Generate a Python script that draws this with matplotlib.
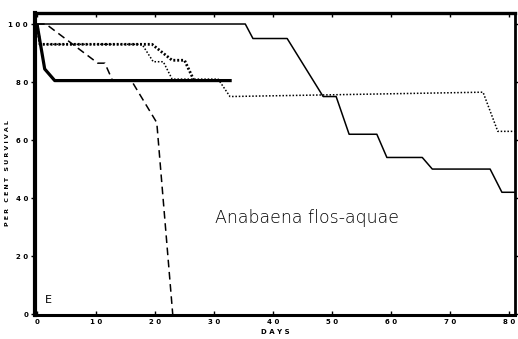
import matplotlib.pyplot as plt

# survival curves (days, per cent survival)
thin_x = [0, 35.3, 36.6, 42.4, 48.5, 50.7, 52.9, 57.6, 59.3, 65.3, 67, 76.8, 78.8, 81]
thin_y = [100, 100, 95, 95, 75, 75, 62, 62, 54, 54, 50, 50, 42, 42]

thick_x = [0, 1.3, 3.0, 33]
thick_y = [100, 84.5, 80.5, 80.5]

dash_x = [0, 1.5, 10.3, 11.5, 12.8, 16, 20.3, 23]
dash_y = [100, 100, 86.5, 86.5, 80.5, 80.5, 66, 0]

dot_thick_x = [0, 0.5, 19.5, 22.9, 25, 26.5]
dot_thick_y = [100, 93, 93, 87.5, 87.5, 81]

dot_thin_x = [0, 0.5, 17.8, 19.7, 21.4, 22.9, 30.7, 32.7, 75.6, 78.1, 81]
dot_thin_y = [100, 93, 93, 87, 87, 81, 81, 75, 76.5, 63, 63]

xticks = [0, 10, 20, 30, 40, 50, 60, 70, 80]
xlabels = ['0', '1 0', '2 0', '3 0', '4 0', '5 0', '6 0', '7 0', '8 0']
yticks = [0, 20, 40, 60, 80, 100]
ylabels = ['0', '2 0', '4 0', '6 0', '8 0', '1 0 0']

fig = plt.figure(figsize=(5.18, 3.39), dpi=100)
ax = fig.add_axes([0.0676, 0.0708, 0.9264, 0.8909])

ax.plot(thin_x, thin_y, color='black', lw=1.1)
ax.plot(thick_x, thick_y, color='black', lw=2.3, solid_capstyle='butt')
ax.plot(dash_x, dash_y, color='black', lw=1.1, dashes=(5, 3))
ax.plot(dot_thick_x, dot_thick_y, color='black', lw=2.0, dashes=(0.7, 0.7))
ax.plot(dot_thin_x, dot_thin_y, color='black', lw=1.1, dashes=(1, 1.2))

ax.set_xlim(-0.34, 81.0)
ax.set_ylim(-0.3, 103.8)

ax.set_xticks(xticks)
ax.set_xticklabels(xlabels, fontsize=5, fontweight='bold')
ax.set_yticks(yticks)
ax.set_yticklabels(ylabels, fontsize=5, fontweight='bold')
ax.tick_params(axis='x', direction='in', top=True, length=3, width=1, pad=3)
ax.tick_params(axis='y', direction='out', right=True, length=3, width=1, pad=2)

ax.spines['left'].set_linewidth(3)
ax.spines['bottom'].set_linewidth(2.2)
ax.spines['top'].set_linewidth(2.4)
ax.spines['right'].set_linewidth(2)

ax.set_xlabel('D A Y S', fontsize=5, fontweight='bold', labelpad=3)
ax.set_ylabel('P E R   C E N T   S U R V I V A L', fontsize=4.5, fontweight='bold')
ax.yaxis.set_label_coords(-0.052, 0.47)

ax.text(30.2, 33, 'Anabaena flos-aquae', fontsize=12.5, fontweight='light', va='center', ha='left')
ax.text(1.3, 3, 'E', fontsize=8, va='bottom', ha='left')

fig.savefig('out.png', dpi=100)
